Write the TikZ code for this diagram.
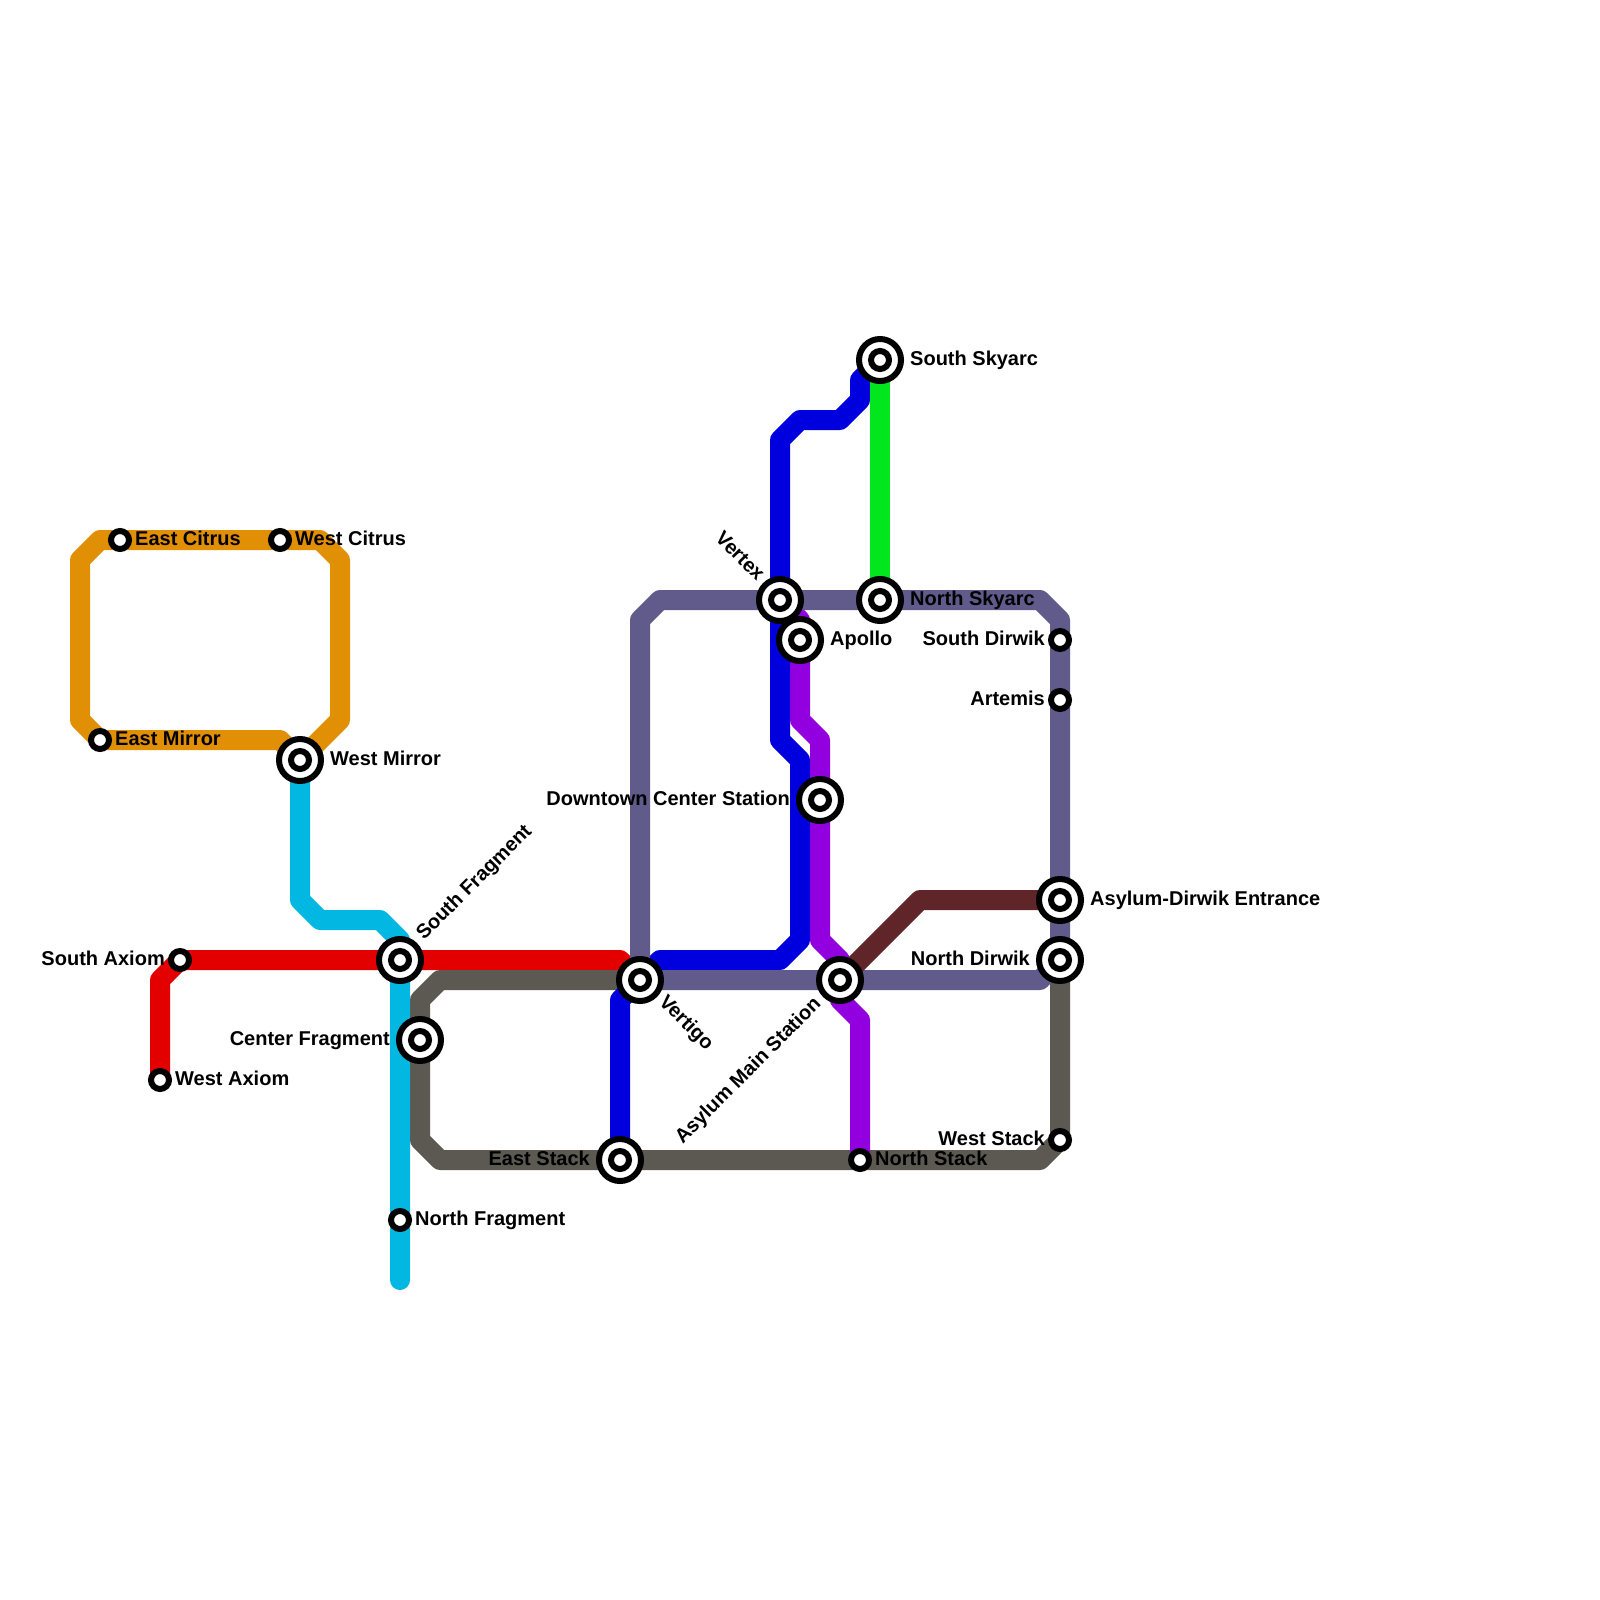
\documentclass[tikz,border=0pt]{standalone}
\usepackage{fontspec}
\setmainfont{Liberation Sans}
\usetikzlibrary{
    backgrounds,
    calc
}
\definecolor{citrus}{HTML}{E19005}
\definecolor{fragment}{HTML}{03B7E3}
\definecolor{axiom}{HTML}{E20000}
\definecolor{stack}{HTML}{5C5852}
\definecolor{dirwik}{HTML}{605B8B}
\definecolor{vertex}{HTML}{0000DF}
\definecolor{skyarc}{HTML}{02E61E}
\definecolor{asylum}{HTML}{9300E0}
\definecolor{entrance}{HTML}{602528}
\tikzset{
    line/.style={line width=20pt, line cap=round, line join=round},
    stop/.style={circle, draw=black, fill=white, line width=6pt, inner sep=0pt, minimum size=18pt},
    hub/.style={stop, minimum size=42pt, path picture={\draw[line width=6pt] (path picture bounding box.center) circle (9pt);}},
    lbl/.style={inner sep=0pt, font=\bfseries\fontsize{20}{22}\selectfont}
}

\begin{document}
\begin{tikzpicture}[x=1pt,y=-1pt]
    \useasboundingbox (0,0) rectangle (1600,1600);

    \node[stop] (ecitrus) at (120, 540) {};
    \node[stop] (wcitrus) at (280, 540) {};
    \node[stop] (emirror) at (100, 740) {};
    \node[hub] (wmirror) at (300, 760) {};
    \node[stop] (saxiom) at (180, 960) {};
    \node[stop] (waxiom) at (160, 1080) {};
    \node[hub] (sfragment) at (400, 960) {};
    \node[hub] (cfragment) at (420, 1040) {};
    \node[stop] (nfragment) at (400, 1220) {};
    \node[hub] (estack) at (620, 1160) {};
    \node[stop] (nstack) at (860, 1160) {};
    \node[stop] (wstack) at (1060, 1140) {};
    \node[hub] (vertigo) at (640, 980) {};
    \node[hub] (main) at (840, 980) {};
    \node[hub] (ndirwik) at (1060, 960) {};
    \node[hub] (entry) at (1060, 900) {};
    \node[stop] (artemis) at (1060, 700) {};
    \node[stop] (sdirwik) at (1060, 640) {};
    \node[hub] (downtown) at (820, 800) {};
    \node[hub] (apollo) at (800, 640) {};
    \node[hub] (vertex) at (780, 600) {};
    \node[hub] (nskyarc) at (880, 600) {};
    \node[hub] (sskyarc) at (880, 360) {};

    \node[lbl, anchor=base west] (ecitrustxt) at (135, 545) {East Citrus};
    \node[lbl, anchor=base west] (wcitrustxt) at (295, 545) {West Citrus};
    \node[lbl, anchor=base west] (emirrortxt) at (115, 745) {East Mirror};
    \node[lbl, anchor=base west] (wmirrortxt) at (330, 765) {West Mirror};
    \node[lbl, anchor=base east] (saxiomtxt) at (165, 965) {South Axiom};
    \node[lbl, anchor=base west] (waxiomtxt) at (175, 1085) {West Axiom};
    \node[lbl, anchor=base west, rotate=45] (sfragmenttxt) at (424, 941) {South Fragment};
    \node[lbl, anchor=base east] (cfragmenttxt) at (390, 1045) {Center Fragment};
    \node[lbl, anchor=base west] (nfragmenttxt) at (415, 1225) {North Fragment};
    \node[lbl, anchor=base east] (estacktxt) at (590, 1165) {East Stack};
    \node[lbl, anchor=base west] (nstacktxt) at (875, 1165) {North Stack};
    \node[lbl, anchor=base east] (wstacktxt) at (1045, 1145) {West Stack};
    \node[lbl, anchor=base west, rotate=-45] (vertigotxt) at (658, 1003) {Vertigo};
    \node[lbl, anchor=base east, rotate=45] (maintxt) at (822, 1005) {Asylum Main Station};
    \node[lbl, anchor=base east] (ndirwiktxt) at (1030, 965) {North Dirwik};
    \node[lbl, anchor=base west] (entrytxt) at (1090, 905) {Asylum-Dirwik Entrance};
    \node[lbl, anchor=base east] (artemistxt) at (1045, 705) {Artemis};
    \node[lbl, anchor=base east] (sdirwiktxt) at (1045, 645) {South Dirwik};
    \node[lbl, anchor=base east] (downtowntxt) at (790, 805) {Downtown Center Station};
    \node[lbl, anchor=base west] (apollotxt) at (830, 645) {Apollo};
    \node[lbl, anchor=base east, rotate=-45] (vertextxt) at (757, 582) {Vertex};
    \node[lbl, anchor=base west] (nskyarctxt) at (910, 605) {North Skyarc};
    \node[lbl, anchor=base west] (sskyarctxt) at (910, 365) {South Skyarc};

    % bends
    \coordinate (c1) at (340, 720);
    \coordinate (c2) at (340, 560);
    \coordinate (c3) at (320, 540);
    \coordinate (c4) at (100, 540);
    \coordinate (c5) at (80, 560);
    \coordinate (c6) at (80, 720);
    \coordinate (c7) at (280, 740);
    \coordinate (f1) at (300, 900);
    \coordinate (f2) at (320, 920);
    \coordinate (f3) at (380, 920);
    \coordinate (f4) at (400, 940);
    \coordinate (f5) at (400, 1280);
    \coordinate (a1) at (160, 980);
    \coordinate (a2) at (620, 960);
    \coordinate (s1) at (440, 980);
    \coordinate (s2) at (420, 1000);
    \coordinate (s3) at (420, 1140);
    \coordinate (s4) at (440, 1160);
    \coordinate (s5) at (1040, 1160);
    \coordinate (d1) at (640, 620);
    \coordinate (d2) at (660, 600);
    \coordinate (d3) at (1040, 600);
    \coordinate (d4) at (1060, 620);
    \coordinate (d5) at (1040, 980);
    \coordinate (v1) at (620, 1000);
    \coordinate (v2) at (660, 960);
    \coordinate (v3) at (780, 960);
    \coordinate (v4) at (800, 940);
    \coordinate (v5) at (800, 760);
    \coordinate (v6) at (780, 740);
    \coordinate (v7) at (780, 440);
    \coordinate (v8) at (800, 420);
    \coordinate (v9) at (840, 420);
    \coordinate (v10) at (860, 400);
    \coordinate (v11) at (860, 380);
    \coordinate (p1) at (800, 620);
    \coordinate (p2) at (800, 720);
    \coordinate (p3) at (820, 740);
    \coordinate (p4) at (820, 940);
    \coordinate (p5) at (840, 960);
    \coordinate (p6) at (840, 1000);
    \coordinate (p7) at (860, 1020);
    \coordinate (e1) at (920, 900);

    \begin{pgfonlayer}{background}
        \draw[line, citrus] (wmirror.center) -- (c1) -- (c2) -- (c3) -- (c4) -- (c5) -- (c6) -- (emirror.center) -- (c7) -- (wmirror.center);
        \draw[line, axiom] (waxiom.center) -- (a1) -- (saxiom.center) -- (a2) -- (vertigo.center);
        \draw[line, stack] (vertigo.center) -- (s1) -- (s2) -- (s3) -- (s4) -- (s5) -- (wstack.center) -- (ndirwik.center);
        \draw[line, fragment] (wmirror.center) -- (f1) -- (f2) -- (f3) -- (f4) -- (sfragment.center) -- (f5);
        \draw[line, asylum] (vertex.center) -- (p1) -- (p2) -- (p3) -- (p4) -- (p5) -- (main.center) -- (p6) -- (p7) -- (nstack.center);
        \draw[line, vertex] (estack.center) -- (v1) -- (vertigo.center) -- (v2) -- (v3) -- (v4) -- (v5) -- (v6) -- (v7) -- (v8) -- (v9) -- (v10) -- (v11) -- (sskyarc.center);
        \draw[line, dirwik] (vertigo.center) -- (d1) -- (d2) -- (d3) -- (d4) -- (ndirwik.center) -- (d5) -- (vertigo.center);
        \draw[line, skyarc] (sskyarc.center) -- (nskyarc.center);
        \draw[line, entrance] (main.center) -- (e1) -- (entry.center);
    \end{pgfonlayer}
\end{tikzpicture}
\end{document}
